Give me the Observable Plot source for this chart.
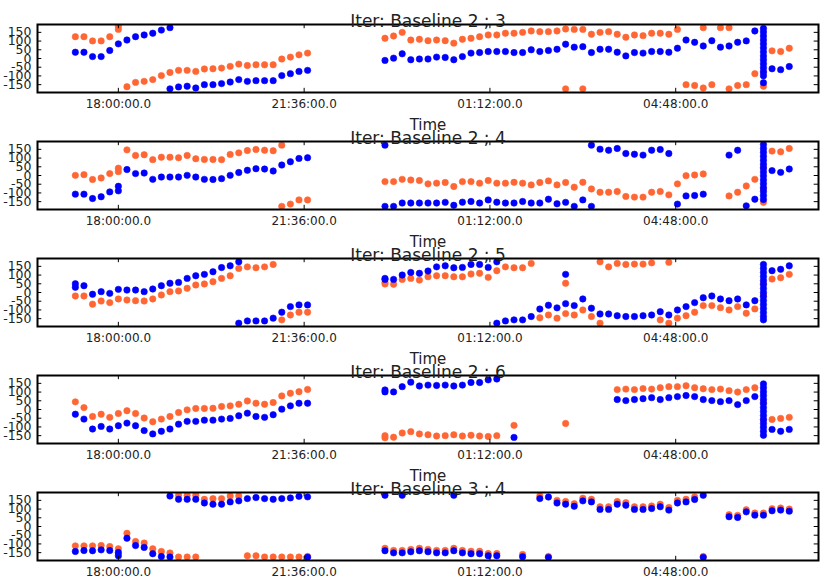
<!DOCTYPE html>
<html>
<head>
<meta charset="utf-8">
<script src="https://cdn.jsdelivr.net/npm/d3@7"></script>
<script src="https://cdn.jsdelivr.net/npm/@observablehq/plot@0.6"></script>
<style>
  html, body { margin: 0; padding: 0; background: #fff; }
  #chart { position: relative; width: 823px; height: 582px; overflow: hidden; font-family: "DejaVu Sans", sans-serif; }
  #chart svg { position: absolute; left: 0; overflow: visible; }
</style>
</head>
<body>
<div id="chart"></div>
<script>
// Sample times (10-minute cadence, evening into the next morning)
const sampleTimes = [
  "17:10","17:20","17:30","17:40","17:50","18:00","18:10","18:20","18:30","18:40","18:50",
  "19:00","19:10","19:20","19:30","19:40","19:50","20:00","20:10","20:20","20:30","20:40","20:50",
  "21:00","21:10","21:20","21:30","21:40","21:50","22:00","22:10","22:20","22:30","22:40","22:50",
  "23:00","23:10","23:20","23:30","23:40","23:50","00:00","00:10","00:20","00:30","00:40","00:50",
  "01:00","01:10","01:20","01:30","01:40","01:50","02:00","02:10","02:20","02:30","02:40","02:50",
  "03:00","03:10","03:20","03:30","03:40","03:50","04:00","04:10","04:20","04:30","04:40","04:50",
  "05:00","05:10","05:20","05:30","05:40","05:50","06:00","06:10","06:20","06:30","06:40","06:50","07:00"
];

const panelTitles = [
  "Iter: Baseline 2 ; 3",
  "Iter: Baseline 2 ; 4",
  "Iter: Baseline 2 ; 5",
  "Iter: Baseline 2 ; 6",
  "Iter: Baseline 3 ; 4"
];

const xTickTimes = ["18:00", "21:36", "01:12", "04:48"];
const xTickLabels = ["18:00:00.0", "21:36:00.0", "01:12:00.0", "04:48:00.0"];
const yTicks = [-150, -100, -50, 0, 50, 100, 150];
const xLabel = "Time";

// Phase values (degrees) per sample; an inner list holds several points at one time
const orange1 = [
  125, 125, 101, 101, 125, [167, 185],
  -162, -137, -131, -121, -98, -80, -68, -68, -74, -60, -59, -55, -45, -32, -40,
  -36, -36, -36, -3, 8, 21, 31,
  null, null, null, null, null, null, null, null,
  116, 129, 150, 106, 110, 102, 106, 102, 88, 110, 116, 125, 135, 135, 145, 145, 150, 158, 154, 154,
  158, [169, -174], 167, [167, -174], 139, 150, 154, 139, 122, 135, 131, 145, 145, 139, 167,
  -150, -155, [177, -169], -150, 177, [177, -174], -155, -150, -87,
  [-80, -159],
  44, 40, 59
];
const blue1 = [
  36, 36, 11, 11, 46, 84, 106, 125, 135, 145, 163, [177, -174],
  -163, -159, -169, -150, -150, -144, -135, -121, -131,
  -127, -127, -127, -98, -87, -74, -68,
  null, null, null, null, null, null, null, null,
  -11, 2, 27, -7, -3, -3, 8, 6, -7, 11, 31, 34, 40, 40, 40, 34, 34, 50, 40, 46,
  53, 82, 65, 68, 34, 53, 53, 36, 15, 34, 31, 40, 40, 36, 59, 106, 93, 72, 102, 65, 72, 93, 101, 158,
  [173, 152, 129, 106, 84, 61, 38, 15, -7, -30, -53, -76, -99, -139],
  -59, -64, -46
];

const orange2 = [
  1, 5, -23, -14, 11, [42, 22],
  147, 115, 119, 91, 105, 105, 102, 115, 96, 92, 92, 91, 121, 130, 143, 149,
  145, 142, [174, -177], -164, -140, -140,
  null, null, null, null, null, null, null, null,
  -35, -35, -22, -26, -29, -48, -44, -40, -63, -35, -35, -44, -29, -44, -44, -39, -44, -54,
  -40, -31, -54, -40, -67, -39, -77, -96, -96, -92, -120, -124, -124, -96, -92, -111, -48, -1, 3, 9,
  null, null,
  -117, -96, -60, -22,
  [45, -77, -154],
  140, 136, 155
];
const blue2 = [
  -107, -107, -132, -122, -94, [-62, -88],
  34, 11, 14, -22, -9, -9, -9, 1, -9, -22, -23, -18, 1, 17, 30, 39,
  37, 26, 60, 79, 98, 102,
  null, null, null, null, null, null, null, null,
  [174, -177], -177, -158, -158, -158, -158, -158, -154, -171, -153, -149, -158, -140, -153, -158, -158, -149, -158,
  -158, -136, -162, -154, -177, -140, [174, -177], 151, 145, 155, 126, 122, 117, 145, 149, 126, -164, -117, -115, -107,
  null, null,
  117, 145, -174, -136,
  [178, 155, 133, 110, 88, 65, 43, 20, -2, -25, -47, -70, -92, -115, -138],
  28, 18, 37
];

const orange3 = [
  -20, -20, -67, -49, -58, -37, -43, -47, -49, -37, -14, 5, 9, 24, 43, 49, 62, 81, 96,
  138, 147, 142, 147, 161,
  -157, -129, -113, -113,
  null, null, null, null, null, null, null, null,
  [58, 49], 47, 75, 81, 71, 90, 96, 96, 90, 90, 106, 110, 87, 125, 147, 142, 142, 167,
  -145, -129, -147, [-121, 53], -129, -100, -138, [176, -176], 147, 167, 161, 163, 163, 170, -157, [173, -176],
  -147, -133, -113, -75, -75, -87, -100, -81, -119, -94,
  [53, -14],
  77, 85, 104
];
const blue3 = [
  [50, 30], 39, -10, 5, -5, 18, 14, 14, 5, 20, 39, 53, 58, 81, 96, 104, 119, 143, 153,
  [176, -176], -163, -163, -163, -147, -113, -81, -71, -71,
  null, null, null, null, null, null, null, null,
  [81, 75], 75, 100, 115, 110, 123, 147, 153, 142, 144, 161, 161, 144, [176, -176], -163, -157, -157, -138,
  -95, -73, -88, [-64, 104], -75, -37, -90, -123, -123, -133, -138, -138, -133, -129, -110, -129,
  -100, -81, -58, -30, -20, -37, -47, -37, -71, -47,
  [161, 138, 115, 92, 69, 46, 23, 0, -23, -46, -69, -92, -115, -138, -157],
  125, 133, 153
];

const orange4 = [
  44, 11, -40, -27, -45, -23, -7, -23, -49, -70, -55, -40, -17, -2, 6, 6, 7, 17, 21, 30, 49, 36, 30, 40, 78, 93, 102, 115,
  null, null, null, null, null, null, null, null,
  [-162, -150], -159, -135, -127, -140, -145, -152, -150, -145, -152, -148, -152, -155, -150,
  null, -91, null, null, null, null, null, -80, null, null, null, null, null,
  114, 117, 114, 120, 117, 125, 131, 131, 136, 125, 119, 114, 117, 108, 100, 114, 125,
  [40, -60],
  -57, -51, -45
];
const blue4 = [
  -27, -55, -112, -97, -112, -93, -78, -93, -121, -140, -125, -112, -84, -68, -68, -61, -61, -55, -51, -36, -21, -40, -45, -30, 2, 21, 36, 36,
  null, null, null, null, null, null, null, null,
  [101, 112], 101, 131, 157, 135, 140, 138, 140, 135, 140, 155, 155, 170, 175,
  null, -160, null, null, null, null, null, null, null, null, null, null, null,
  57, 51, 57, 62, 68, 57, 68, 74, 80, 74, 57, 51, 45, 51, 28, 51, 74,
  [147, 125, 102, 80, 57, 34, 11, -11, -34, -57, -80, -102, -125, -148],
  -114, -125, -114
];

const orange5 = [
  -111, -111, -111, -109, -115, -128, -39, -86, -95, -128, -143,
  -152,
  [179, -175], [179, -175], [179, -175], 156, 160, 160, 175, 175,
  -168, -168, -175, -175, -175, -175, -175, -172,
  null, null, null, null, null, null, null, null,
  -125, -137, -137, -131, -125, -131, -137, -137, -125, -137, -142, -142, -155, -155, null, null, -160, null,
  175, -172, 150, 143, 131, 162, 156, 113, 113, 143, 137, 113, 113, 118, 128, 109, 150, 156, 170, -172,
  null, null,
  68, 64, 96, 77, 77, 102, 106, 100
];
const blue5 = [
  -143, -138, -139, -134, -138, [-149, -168], -67, -109, -120, -156, -172,
  [-175, 175],
  156, 156, 156, 135, 128, 128, 141, 147, 160, 166, 160, 156, 160, 164, 173,
  [170, -176],
  null, null, null, null, null, null, null, null,
  [179, -139], -151, [179, -151], -145, -139, -145, -151, -151, [-139, 179], -151, -156, -156, -168, -168, null, null, -173, null,
  160, [169, -177], 135, 128, 116, 147, 141, 98, 98, 128, 122, 98, 98, 103, 113, 94, 135, 141, 155, [179, -177],
  null, null,
  56, 52, 84, 65, 65, 90, 94, 88
];

const panelSeries = [
  [orange1, blue1], [orange2, blue2], [orange3, blue3], [orange4, blue4], [orange5, blue5]
];

// minutes relative to 18:00; morning hours belong to the following day
function toMinutes(s) {
  const [h, m] = s.split(":").map(Number);
  const v = h * 60 + m;
  return v >= 720 ? v - 1080 : v + 360;
}

function points(values) {
  const out = [];
  values.forEach((v, i) => {
    if (v == null) return;
    const t = toMinutes(sampleTimes[i]);
    (Array.isArray(v) ? v : [v]).forEach((y) => out.push({t, y}));
  });
  return out;
}

const xDomain = [-94, 814];
const yDomain = [-195, 195];
const xTicks = xTickTimes.map(toMinutes);
const ORANGE = "#ff6633";
const BLUE = "#0000ff";
const PANEL_STEP = 117;

const chart = document.getElementById("chart");

panelSeries.forEach(([orange, blue], k) => {
  const last = k === panelSeries.length - 1;
  const svg = Plot.plot({
    width: 823,
    height: PANEL_STEP,
    marginLeft: 37,
    marginRight: 5,
    marginTop: 24,
    marginBottom: 25,
    style: {fontFamily: "DejaVu Sans, sans-serif", fontSize: "12px", background: "transparent", overflow: "visible", color: "#222"},
    x: {domain: xDomain, axis: null},
    y: {domain: yDomain, axis: null},
    marks: [
      Plot.dot(points(orange), {x: "t", y: "y", r: 3.2, fill: ORANGE, stroke: ORANGE, strokeWidth: 0.6, clip: true}),
      Plot.dot(points(blue), {x: "t", y: "y", r: 3.2, fill: BLUE, stroke: BLUE, strokeWidth: 0.6, clip: true}),
      // inward ticks on all four sides
      Plot.ruleX(xTicks, {x: (d) => d, y1: yDomain[0], y2: yDomain[0] + 24, stroke: "#000"}),
      Plot.ruleX(xTicks, {x: (d) => d, y1: yDomain[1], y2: yDomain[1] - 24, stroke: "#000"}),
      Plot.ruleY(yTicks, {y: (d) => d, x1: xDomain[0], x2: xDomain[0] + 5, stroke: "#000"}),
      Plot.ruleY(yTicks, {y: (d) => d, x1: xDomain[1], x2: xDomain[1] - 5, stroke: "#000"}),
      Plot.axisX({ticks: xTicks, tickFormat: (d) => xTickLabels[xTicks.indexOf(d)], tickSize: 0, tickPadding: 7, label: null, fontSize: 12}),
      Plot.axisY({ticks: yTicks, tickFormat: (d) => String(d), tickSize: 0, tickPadding: 6, label: null, fontSize: 12.5}),
      Plot.frame({stroke: "#000", strokeWidth: 2}),
      // the last panel's axis title falls below the figure's bottom edge
      last ? null : Plot.text([xLabel], {frameAnchor: "bottom", dy: 37, fontSize: 15, fill: "#222"}),
      Plot.text([panelTitles[k]], {frameAnchor: "top", dy: -10, fontSize: 17, fill: "#222"})
    ]
  });
  svg.style.top = `${k * PANEL_STEP}px`;
  chart.appendChild(svg);
});
</script>
</body>
</html>
